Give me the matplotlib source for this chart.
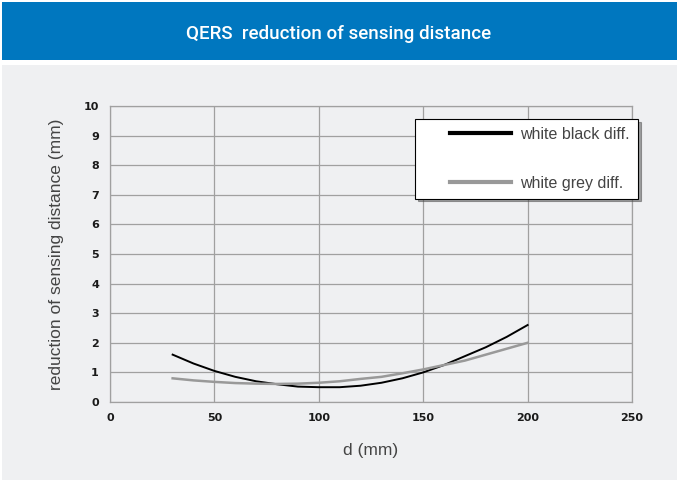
import numpy as np
import matplotlib.pyplot as plt
from matplotlib.patches import Rectangle
from matplotlib.legend_handler import HandlerLine2D

# values
d_mm = [30, 40, 50, 60, 70, 80, 90, 100, 110, 120, 130, 140, 150, 160, 170, 180, 190, 200]
black_diff = [1.6, 1.3, 1.05, 0.85, 0.7, 0.6, 0.52, 0.5, 0.5, 0.55, 0.65, 0.8, 1.0, 1.25, 1.55, 1.85, 2.2, 2.6]
grey_diff = [0.8, 0.73, 0.68, 0.64, 0.62, 0.61, 0.62, 0.65, 0.7, 0.78, 0.85, 0.97, 1.1, 1.25, 1.4, 1.6, 1.8, 2.0]
x_ticks = [0, 50, 100, 150, 200, 250]
y_ticks = list(range(0, 11))


# legend line that starts a bit to the right, like the original
class LeadHandler(HandlerLine2D):
    def __init__(self, lead, **kw):
        super().__init__(**kw)
        self.lead = lead

    def get_xdata(self, legend, xdescent, ydescent, width, height, fontsize):
        x0 = -xdescent + self.lead * fontsize
        xd = np.array([x0, -xdescent + width])
        return xd, xd


W, H = 677, 483
fig = plt.figure(figsize=(W / 100, H / 100), dpi=100)
fig.patch.set_facecolor('white')

# blue title band and grey panel (behind the axes)
fig.patches.append(Rectangle((2 / W, 1 - 60 / H), 675 / W, 58 / H, transform=fig.transFigure,
                             facecolor='#0077bf', edgecolor='none', zorder=-10))
fig.patches.append(Rectangle((2 / W, 1 - 480 / H), 675 / W, 415 / H, transform=fig.transFigure,
                             facecolor='#eff0f2', edgecolor='none', zorder=-10))
fig.text(0.5, 1 - 34 / H, 'QERS  reduction of sensing distance', color='white',
         ha='center', va='center', fontsize=13.5, fontweight='medium', family='Roboto')

ax = fig.add_axes([110 / W, 1 - 402 / H, 522 / W, 296 / H])
ax.set_facecolor('#eff0f2')

l1, = ax.plot(d_mm, black_diff, color='black', lw=1.4, label='white black diff.', zorder=3)
l2, = ax.plot(d_mm, grey_diff, color='#999999', lw=1.8, label='white grey diff.', zorder=3)

ax.set_xlim(0, 250)
ax.set_ylim(0, 10)
ax.set_xticks(x_ticks)
ax.set_yticks(y_ticks)
ax.grid(True, color='#a0a0a0', lw=0.9)
for s in ax.spines.values():
    s.set_color('#a0a0a0')
    s.set_linewidth(0.9)
ax.tick_params(length=0, labelsize=8, colors='#1a1a1a', pad=8)
for lab in ax.get_xticklabels() + ax.get_yticklabels():
    lab.set_fontweight('bold')

ax.set_xlabel('d (mm)', fontsize=12.5, color='#444444', labelpad=14, family='Liberation Sans')
ax.set_ylabel('reduction of sensing distance (mm)', fontsize=12.5, color='#444444',
              labelpad=14, family='Liberation Sans')

leg = ax.legend(loc='upper right', bbox_to_anchor=(1.0115, 0.956), borderaxespad=0,
                prop={'family': 'Liberation Sans', 'size': 11.5}, frameon=True,
                fancybox=False, shadow=True, handlelength=5.5, labelspacing=2.1,
                borderpad=0.5, handletextpad=0.6,
                handler_map={l1: LeadHandler(1.7), l2: LeadHandler(1.7)})
leg.get_frame().set_edgecolor('black')
leg.get_frame().set_linewidth(0.8)
for t in leg.get_texts():
    t.set_color('#444444')
for l in leg.get_lines():
    l.set_linewidth(3)

fig.savefig('out.png', dpi=100)
